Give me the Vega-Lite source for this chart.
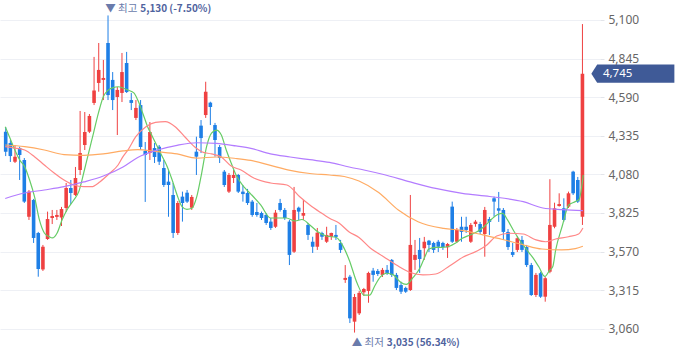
{
  "$schema": "https://vega.github.io/schema/vega-lite/v6.json",
  "width": 600,
  "height": 358,
  "autosize": {"type": "none"},
  "padding": {"left": 0, "right": 80, "top": 0, "bottom": 0},
  "background": "white",
  "config": {"view": {"stroke": null}, "font": "Noto Sans CJK KR"},
  "datasets": {
    "candles": [
      {"i":0,"o":4362,"h":4393,"l":4201,"c":4230},
      {"i":1,"o":4287,"h":4307,"l":4162,"c":4201},
      {"i":2,"o":4164,"h":4274,"l":4155,"c":4197},
      {"i":3,"o":4254,"h":4263,"l":4043,"c":4208},
      {"i":4,"o":4175,"h":4188,"l":3891,"c":3900},
      {"i":5,"o":3800,"h":3977,"l":3779,"c":3966},
      {"i":6,"o":3911,"h":3918,"l":3627,"c":3660},
      {"i":7,"o":3693,"h":3700,"l":3404,"c":3455},
      {"i":8,"o":3452,"h":3614,"l":3442,"c":3602},
      {"i":9,"o":3653,"h":3834,"l":3647,"c":3785},
      {"i":10,"o":3792,"h":3845,"l":3752,"c":3805},
      {"i":11,"o":3799,"h":3845,"l":3779,"c":3812},
      {"i":12,"o":3795,"h":3865,"l":3739,"c":3851},
      {"i":13,"o":3858,"h":4023,"l":3832,"c":3990},
      {"i":14,"o":3990,"h":4043,"l":3884,"c":3957},
      {"i":15,"o":3944,"h":4129,"l":3937,"c":4056},
      {"i":16,"o":4109,"h":4499,"l":4076,"c":4221},
      {"i":17,"o":4274,"h":4492,"l":4241,"c":4360},
      {"i":18,"o":4362,"h":4479,"l":4353,"c":4466},
      {"i":19,"o":4552,"h":4856,"l":4538,"c":4634},
      {"i":20,"o":4684,"h":4948,"l":4626,"c":4770},
      {"i":21,"o":4704,"h":4836,"l":4571,"c":4717},
      {"i":22,"o":4948,"h":5130,"l":4571,"c":4604},
      {"i":23,"o":4704,"h":4756,"l":4505,"c":4571},
      {"i":24,"o":4591,"h":4657,"l":4340,"c":4638},
      {"i":25,"o":4618,"h":4882,"l":4558,"c":4756},
      {"i":26,"o":4816,"h":4889,"l":4618,"c":4624},
      {"i":27,"o":4571,"h":4618,"l":4505,"c":4552},
      {"i":28,"o":4453,"h":4571,"l":4439,"c":4519},
      {"i":29,"o":4538,"h":4571,"l":4241,"c":4261},
      {"i":30,"o":4235,"h":4294,"l":3898,"c":4208},
      {"i":31,"o":4221,"h":4426,"l":4175,"c":4360},
      {"i":32,"o":4254,"h":4287,"l":4155,"c":4195},
      {"i":33,"o":4263,"h":4274,"l":4142,"c":4164},
      {"i":34,"o":4122,"h":4175,"l":3997,"c":4010},
      {"i":35,"o":4032,"h":4109,"l":3800,"c":4010},
      {"i":36,"o":3944,"h":4023,"l":3660,"c":3693},
      {"i":37,"o":3693,"h":3904,"l":3680,"c":3891},
      {"i":38,"o":3933,"h":3966,"l":3768,"c":3891},
      {"i":39,"o":3959,"h":3977,"l":3891,"c":3900},
      {"i":40,"o":3860,"h":3944,"l":3845,"c":3931},
      {"i":41,"o":4230,"h":4329,"l":4076,"c":4197},
      {"i":42,"o":4402,"h":4439,"l":4221,"c":4320},
      {"i":43,"o":4472,"h":4692,"l":4453,"c":4626},
      {"i":44,"o":4554,"h":4560,"l":4406,"c":4525},
      {"i":45,"o":4406,"h":4420,"l":4197,"c":4307},
      {"i":46,"o":4261,"h":4274,"l":4155,"c":4188},
      {"i":47,"o":4098,"h":4109,"l":3997,"c":4010},
      {"i":48,"o":3966,"h":4089,"l":3957,"c":4076},
      {"i":49,"o":4056,"h":4109,"l":4023,"c":4076},
      {"i":50,"o":4076,"h":4083,"l":3957,"c":3966},
      {"i":51,"o":3966,"h":4010,"l":3900,"c":3950},
      {"i":52,"o":3957,"h":3984,"l":3878,"c":3891},
      {"i":53,"o":3900,"h":3911,"l":3800,"c":3812},
      {"i":54,"o":3832,"h":3891,"l":3800,"c":3812},
      {"i":55,"o":3825,"h":3834,"l":3779,"c":3792},
      {"i":56,"o":3812,"h":3825,"l":3746,"c":3759},
      {"i":57,"o":3768,"h":3792,"l":3713,"c":3726},
      {"i":58,"o":3734,"h":3845,"l":3726,"c":3827},
      {"i":59,"o":3891,"h":3918,"l":3834,"c":3845},
      {"i":60,"o":3845,"h":3858,"l":3779,"c":3792},
      {"i":61,"o":3768,"h":3779,"l":3481,"c":3548},
      {"i":62,"o":3569,"h":3997,"l":3561,"c":3845},
      {"i":63,"o":3860,"h":3867,"l":3779,"c":3834},
      {"i":64,"o":3807,"h":3911,"l":3779,"c":3825},
      {"i":65,"o":3746,"h":3759,"l":3647,"c":3680},
      {"i":66,"o":3635,"h":3668,"l":3561,"c":3602},
      {"i":67,"o":3602,"h":3726,"l":3581,"c":3695},
      {"i":68,"o":3693,"h":3701,"l":3647,"c":3668},
      {"i":69,"o":3635,"h":3734,"l":3627,"c":3680},
      {"i":70,"o":3668,"h":3695,"l":3647,"c":3693},
      {"i":71,"o":3680,"h":3746,"l":3647,"c":3667},
      {"i":72,"o":3627,"h":3647,"l":3561,"c":3581},
      {"i":73,"o":3383,"h":3481,"l":3363,"c":3396},
      {"i":74,"o":3404,"h":3416,"l":3098,"c":3129},
      {"i":75,"o":3107,"h":3290,"l":3035,"c":3270},
      {"i":76,"o":3162,"h":3310,"l":3151,"c":3297},
      {"i":77,"o":3301,"h":3330,"l":3277,"c":3323},
      {"i":78,"o":3310,"h":3437,"l":3232,"c":3429},
      {"i":79,"o":3444,"h":3462,"l":3371,"c":3416},
      {"i":80,"o":3442,"h":3455,"l":3409,"c":3422},
      {"i":81,"o":3416,"h":3462,"l":3402,"c":3449},
      {"i":82,"o":3449,"h":3481,"l":3416,"c":3429},
      {"i":83,"o":3515,"h":3521,"l":3402,"c":3416},
      {"i":84,"o":3416,"h":3429,"l":3316,"c":3330},
      {"i":85,"o":3349,"h":3371,"l":3290,"c":3305},
      {"i":86,"o":3330,"h":3338,"l":3297,"c":3305},
      {"i":87,"o":3316,"h":3944,"l":3310,"c":3614},
      {"i":88,"o":3515,"h":3647,"l":3449,"c":3548},
      {"i":89,"o":3581,"h":3660,"l":3429,"c":3521},
      {"i":90,"o":3592,"h":3667,"l":3515,"c":3635},
      {"i":91,"o":3642,"h":3647,"l":3567,"c":3614},
      {"i":92,"o":3627,"h":3635,"l":3561,"c":3581},
      {"i":93,"o":3635,"h":3647,"l":3567,"c":3602},
      {"i":94,"o":3627,"h":3635,"l":3581,"c":3600},
      {"i":95,"o":3598,"h":3627,"l":3528,"c":3620},
      {"i":96,"o":3867,"h":3900,"l":3627,"c":3635},
      {"i":97,"o":3635,"h":3726,"l":3627,"c":3713},
      {"i":98,"o":3734,"h":3800,"l":3635,"c":3700},
      {"i":99,"o":3734,"h":3800,"l":3693,"c":3713},
      {"i":100,"o":3635,"h":3759,"l":3627,"c":3746},
      {"i":101,"o":3752,"h":3779,"l":3734,"c":3768},
      {"i":102,"o":3752,"h":3766,"l":3686,"c":3700},
      {"i":103,"o":3686,"h":3865,"l":3536,"c":3845},
      {"i":104,"o":3785,"h":3799,"l":3680,"c":3766},
      {"i":105,"o":3922,"h":3933,"l":3800,"c":3900},
      {"i":106,"o":3856,"h":3964,"l":3766,"c":3840},
      {"i":107,"o":3845,"h":3858,"l":3647,"c":3700},
      {"i":108,"o":3700,"h":3719,"l":3581,"c":3600},
      {"i":109,"o":3567,"h":3627,"l":3534,"c":3548},
      {"i":110,"o":3581,"h":3673,"l":3567,"c":3658},
      {"i":111,"o":3647,"h":3673,"l":3567,"c":3581},
      {"i":112,"o":3600,"h":3614,"l":3468,"c":3481},
      {"i":113,"o":3481,"h":3495,"l":3277,"c":3283},
      {"i":114,"o":3283,"h":3429,"l":3270,"c":3416},
      {"i":115,"o":3427,"h":3437,"l":3264,"c":3272},
      {"i":116,"o":3272,"h":3404,"l":3239,"c":3394},
      {"i":117,"o":3437,"h":4048,"l":3427,"c":3746},
      {"i":118,"o":3734,"h":3893,"l":3724,"c":3856},
      {"i":119,"o":3871,"h":3955,"l":3867,"c":3884},
      {"i":120,"o":3856,"h":3922,"l":3768,"c":3779},
      {"i":121,"o":3867,"h":3966,"l":3858,"c":3955},
      {"i":122,"o":4098,"h":4104,"l":3944,"c":3955},
      {"i":123,"o":4043,"h":4063,"l":3891,"c":3900},
      {"i":124,"o":3800,"h":5073,"l":3746,"c":4745}
    ],
    "ma": [
      {"m":"ma5","i":-0.1,"v":4395},{"m":"ma5","i":0.91,"v":4320},{"m":"ma5","i":1.97,"v":4241},{"m":"ma5","i":3.02,"v":4175},{"m":"ma5","i":4.08,"v":4131},{"m":"ma5","i":5.14,"v":4043},{"m":"ma5","i":6.19,"v":3933},{"m":"ma5","i":7.25,"v":3779},{"m":"ma5","i":8.31,"v":3693},{"m":"ma5","i":9.37,"v":3668},{"m":"ma5","i":10.0,"v":3660},{"m":"ma5","i":11.06,"v":3693},{"m":"ma5","i":12.11,"v":3779},{"m":"ma5","i":13.17,"v":3845},{"m":"ma5","i":14.65,"v":3911},{"m":"ma5","i":15.71,"v":3966},{"m":"ma5","i":16.77,"v":4089},{"m":"ma5","i":17.82,"v":4221},{"m":"ma5","i":18.88,"v":4353},{"m":"ma5","i":19.94,"v":4486},{"m":"ma5","i":20.99,"v":4593},{"m":"ma5","i":22.05,"v":4637},{"m":"ma5","i":23.11,"v":4653},{"m":"ma5","i":24.16,"v":4659},{"m":"ma5","i":25.22,"v":4651},{"m":"ma5","i":26.28,"v":4637},{"m":"ma5","i":27.55,"v":4618},{"m":"ma5","i":28.39,"v":4571},{"m":"ma5","i":29.45,"v":4486},{"m":"ma5","i":30.51,"v":4395},{"m":"ma5","i":31.56,"v":4329},{"m":"ma5","i":32.62,"v":4263},{"m":"ma5","i":33.68,"v":4197},{"m":"ma5","i":34.73,"v":4131},{"m":"ma5","i":35.79,"v":4043},{"m":"ma5","i":36.85,"v":3944},{"m":"ma5","i":37.91,"v":3867},{"m":"ma5","i":38.96,"v":3849},{"m":"ma5","i":40.02,"v":3856},{"m":"ma5","i":41.08,"v":3933},{"m":"ma5","i":42.14,"v":4089},{"m":"ma5","i":43.19,"v":4263},{"m":"ma5","i":44.25,"v":4353},{"m":"ma5","i":45.31,"v":4373},{"m":"ma5","i":46.36,"v":4340},{"m":"ma5","i":47.42,"v":4241},{"m":"ma5","i":48.48,"v":4155},{"m":"ma5","i":49.53,"v":4076},{"m":"ma5","i":51.23,"v":3997},{"m":"ma5","i":52.71,"v":3950},{"m":"ma5","i":54.82,"v":3878},{"m":"ma5","i":56.93,"v":3792},{"m":"ma5","i":58.41,"v":3792},{"m":"ma5","i":60.32,"v":3792},{"m":"ma5","i":62.22,"v":3772},{"m":"ma5","i":63.7,"v":3782},{"m":"ma5","i":65.39,"v":3746},{"m":"ma5","i":67.08,"v":3701},{"m":"ma5","i":68.99,"v":3673},{"m":"ma5","i":71.1,"v":3663},{"m":"ma5","i":72.37,"v":3614},{"m":"ma5","i":73.85,"v":3515},{"m":"ma5","i":75.54,"v":3362},{"m":"ma5","i":77.02,"v":3283},{"m":"ma5","i":78.29,"v":3283},{"m":"ma5","i":79.34,"v":3343},{"m":"ma5","i":80.61,"v":3404},{"m":"ma5","i":81.88,"v":3427},{"m":"ma5","i":83.36,"v":3416},{"m":"ma5","i":84.84,"v":3369},{"m":"ma5","i":86.11,"v":3353},{"m":"ma5","i":87.59,"v":3399},{"m":"ma5","i":89.07,"v":3462},{"m":"ma5","i":90.13,"v":3536},{"m":"ma5","i":90.97,"v":3587},{"m":"ma5","i":92.45,"v":3598},{"m":"ma5","i":93.93,"v":3598},{"m":"ma5","i":95.41,"v":3605},{"m":"ma5","i":96.68,"v":3625},{"m":"ma5","i":98.16,"v":3658},{"m":"ma5","i":99.85,"v":3680},{"m":"ma5","i":101.33,"v":3701},{"m":"ma5","i":102.81,"v":3734},{"m":"ma5","i":104.5,"v":3785},{"m":"ma5","i":105.77,"v":3815},{"m":"ma5","i":106.83,"v":3823},{"m":"ma5","i":107.89,"v":3779},{"m":"ma5","i":109.37,"v":3699},{"m":"ma5","i":110.63,"v":3640},{"m":"ma5","i":111.9,"v":3587},{"m":"ma5","i":113.38,"v":3528},{"m":"ma5","i":114.65,"v":3468},{"m":"ma5","i":115.92,"v":3406},{"m":"ma5","i":116.98,"v":3448},{"m":"ma5","i":117.61,"v":3470},{"m":"ma5","i":118.25,"v":3581},{"m":"ma5","i":119.66,"v":3739},{"m":"ma5","i":121.06,"v":3878},{"m":"ma5","i":122.47,"v":3900},{"m":"ma5","i":123.31,"v":3917},{"m":"ma5","i":124.17,"v":4076},
      {"m":"ma20","i":-0.1,"v":4263},{"m":"ma20","i":1.97,"v":4254},{"m":"ma20","i":4.08,"v":4241},{"m":"ma20","i":6.19,"v":4197},{"m":"ma20","i":8.31,"v":4142},{"m":"ma20","i":10.42,"v":4089},{"m":"ma20","i":12.54,"v":4043},{"m":"ma20","i":14.65,"v":4010},{"m":"ma20","i":16.77,"v":3999},{"m":"ma20","i":18.46,"v":3999},{"m":"ma20","i":20.3,"v":4032},{"m":"ma20","i":22.41,"v":4089},{"m":"ma20","i":24.16,"v":4142},{"m":"ma20","i":25.22,"v":4197},{"m":"ma20","i":26.28,"v":4241},{"m":"ma20","i":27.97,"v":4329},{"m":"ma20","i":30.08,"v":4393},{"m":"ma20","i":32.2,"v":4423},{"m":"ma20","i":34.31,"v":4428},{"m":"ma20","i":36.43,"v":4395},{"m":"ma20","i":38.54,"v":4327},{"m":"ma20","i":40.66,"v":4261},{"m":"ma20","i":42.14,"v":4230},{"m":"ma20","i":44.25,"v":4215},{"m":"ma20","i":46.36,"v":4195},{"m":"ma20","i":48.48,"v":4135},{"m":"ma20","i":50.59,"v":4109},{"m":"ma20","i":53.34,"v":4056},{"m":"ma20","i":56.93,"v":4023},{"m":"ma20","i":60.47,"v":4010},{"m":"ma20","i":63.28,"v":3931},{"m":"ma20","i":65.39,"v":3878},{"m":"ma20","i":67.51,"v":3832},{"m":"ma20","i":69.62,"v":3790},{"m":"ma20","i":71.73,"v":3757},{"m":"ma20","i":73.85,"v":3700},{"m":"ma20","i":75.96,"v":3663},{"m":"ma20","i":78.44,"v":3592},{"m":"ma20","i":81.25,"v":3536},{"m":"ma20","i":84.0,"v":3481},{"m":"ma20","i":86.96,"v":3432},{"m":"ma20","i":89.7,"v":3416},{"m":"ma20","i":92.45,"v":3422},{"m":"ma20","i":95.41,"v":3475},{"m":"ma20","i":98.37,"v":3534},{"m":"ma20","i":101.33,"v":3574},{"m":"ma20","i":103.45,"v":3614},{"m":"ma20","i":105.56,"v":3673},{"m":"ma20","i":108.31,"v":3691},{"m":"ma20","i":111.27,"v":3686},{"m":"ma20","i":114.02,"v":3647},{"m":"ma20","i":116.13,"v":3635},{"m":"ma20","i":118.25,"v":3653},{"m":"ma20","i":121.0,"v":3668},{"m":"ma20","i":123.17,"v":3686},{"m":"ma20","i":124.1,"v":3726},
      {"m":"ma60","i":-0.1,"v":4274},{"m":"ma60","i":4.08,"v":4263},{"m":"ma60","i":8.31,"v":4241},{"m":"ma60","i":12.54,"v":4211},{"m":"ma60","i":16.77,"v":4206},{"m":"ma60","i":20.99,"v":4215},{"m":"ma60","i":25.22,"v":4235},{"m":"ma60","i":28.39,"v":4244},{"m":"ma60","i":32.62,"v":4230},{"m":"ma60","i":36.85,"v":4215},{"m":"ma60","i":41.08,"v":4188},{"m":"ma60","i":45.31,"v":4195},{"m":"ma60","i":49.53,"v":4185},{"m":"ma60","i":52.71,"v":4172},{"m":"ma60","i":56.93,"v":4139},{"m":"ma60","i":61.16,"v":4106},{"m":"ma60","i":65.39,"v":4086},{"m":"ma60","i":69.62,"v":4076},{"m":"ma60","i":72.79,"v":4066},{"m":"ma60","i":75.96,"v":4036},{"m":"ma60","i":80.19,"v":3960},{"m":"ma60","i":84.42,"v":3845},{"m":"ma60","i":88.65,"v":3767},{"m":"ma60","i":94.14,"v":3723},{"m":"ma60","i":98.37,"v":3709},{"m":"ma60","i":102.6,"v":3680},{"m":"ma60","i":106.83,"v":3650},{"m":"ma60","i":111.06,"v":3617},{"m":"ma60","i":115.29,"v":3587},{"m":"ma60","i":119.52,"v":3581},{"m":"ma60","i":122.47,"v":3590},{"m":"ma60","i":124.1,"v":3605},
      {"m":"ma120","i":-0.1,"v":3921},{"m":"ma120","i":4.08,"v":3957},{"m":"ma120","i":8.31,"v":3977},{"m":"ma120","i":12.54,"v":3999},{"m":"ma120","i":16.77,"v":4030},{"m":"ma120","i":20.99,"v":4069},{"m":"ma120","i":25.22,"v":4129},{"m":"ma120","i":28.39,"v":4192},{"m":"ma120","i":32.62,"v":4241},{"m":"ma120","i":36.85,"v":4272},{"m":"ma120","i":41.08,"v":4289},{"m":"ma120","i":45.31,"v":4285},{"m":"ma120","i":49.53,"v":4268},{"m":"ma120","i":52.71,"v":4252},{"m":"ma120","i":56.93,"v":4215},{"m":"ma120","i":61.16,"v":4195},{"m":"ma120","i":65.39,"v":4177},{"m":"ma120","i":69.62,"v":4159},{"m":"ma120","i":73.85,"v":4129},{"m":"ma120","i":77.02,"v":4109},{"m":"ma120","i":81.25,"v":4079},{"m":"ma120","i":86.96,"v":4030},{"m":"ma120","i":92.45,"v":3987},{"m":"ma120","i":98.16,"v":3955},{"m":"ma120","i":104.08,"v":3934},{"m":"ma120","i":111.27,"v":3900},{"m":"ma120","i":115.5,"v":3858},{"m":"ma120","i":119.73,"v":3847},{"m":"ma120","i":124.1,"v":3840}
    ],
    "notes": [
      {"i":21.4,"v":5173,"a":"▼ 최고","b":"5,130 (-7.50%)"},
      {"i":74.4,"v":2966,"a":"▲ 최저","b":"3,035 (56.34%)"}
    ],
    "tag": [{"i":134.84,"v":4745,"t":"4,745","ti":128.4}]
  },
  "layer": [
    {
      "data": {"name": "candles"},
      "mark": {"type": "rule", "strokeWidth": 1},
      "encoding": {
        "x": {"field": "i", "type": "quantitative", "scale": {"domain": [-0.15, 126.7], "nice": false, "zero": false}, "axis": null},
        "y": {"field": "l", "type": "quantitative", "scale": {"domain": [2867, 5232], "nice": false, "zero": false},
          "axis": {"orient": "right", "title": null, "values": [3060,3315,3570,3825,4080,4335,4590,4845,5100], "format": ",.0f", "grid": true, "gridColor": "#eef0f5", "gridWidth": 1, "domain": false, "tickColor": "#e3e5ea", "tickSize": 4, "labelColor": "#666666", "labelFontSize": 12, "labelFont": "Noto Sans", "labelPadding": 4}},
        "y2": {"field": "h"},
        "color": {"condition": {"test": "datum.c >= datum.o", "value": "#ef4141"}, "value": "#1e7fe6"}
      }
    },
    {
      "data": {"name": "candles"},
      "mark": {"type": "bar", "size": 3.6},
      "encoding": {
        "x": {"field": "i", "type": "quantitative"},
        "y": {"field": "o", "type": "quantitative"},
        "y2": {"field": "c"},
        "color": {"condition": {"test": "datum.c >= datum.o", "value": "#ef4141"}, "value": "#1e7fe6"}
      }
    },
    {
      "data": {"name": "ma"},
      "mark": {"type": "line", "strokeWidth": 1.2, "interpolate": "monotone"},
      "encoding": {
        "x": {"field": "i", "type": "quantitative"},
        "y": {"field": "v", "type": "quantitative"},
        "color": {"field": "m", "type": "nominal", "legend": null, "scale": {"domain": ["ma5","ma20","ma60","ma120"], "range": ["#66cc66","#ff8787","#ffab63","#b37cff"]}},
        "detail": {"field": "m"}
      }
    },
    {
      "data": {"name": "notes"},
      "mark": {"type": "text", "align": "left", "baseline": "middle", "fontSize": 10.5, "color": "#6a7bab"},
      "encoding": {
        "x": {"field": "i", "type": "quantitative"},
        "y": {"field": "v", "type": "quantitative"},
        "text": {"field": "a"}
      }
    },
    {
      "data": {"name": "notes"},
      "mark": {"type": "text", "align": "left", "baseline": "middle", "fontSize": 10, "color": "#4f639e", "fontWeight": "bold", "dx": 35},
      "encoding": {
        "x": {"field": "i", "type": "quantitative"},
        "y": {"field": "v", "type": "quantitative"},
        "text": {"field": "b"}
      }
    },
    {
      "data": {"name": "tag"},
      "mark": {"type": "point", "filled": true, "shape": "M-1,0L-0.86,-0.22L1,-0.22L1,0.22L-0.86,0.22Z", "size": 6889, "color": "#3f5a97", "opacity": 1, "strokeWidth": 0},
      "encoding": {
        "x": {"field": "i", "type": "quantitative"},
        "y": {"field": "v", "type": "quantitative"}
      }
    },
    {
      "data": {"name": "tag"},
      "mark": {"type": "text", "align": "left", "baseline": "middle", "fontSize": 11.5, "color": "white", "font": "Noto Sans"},
      "encoding": {
        "x": {"field": "ti", "type": "quantitative"},
        "y": {"field": "v", "type": "quantitative"},
        "text": {"field": "t"}
      }
    }
  ]
}
